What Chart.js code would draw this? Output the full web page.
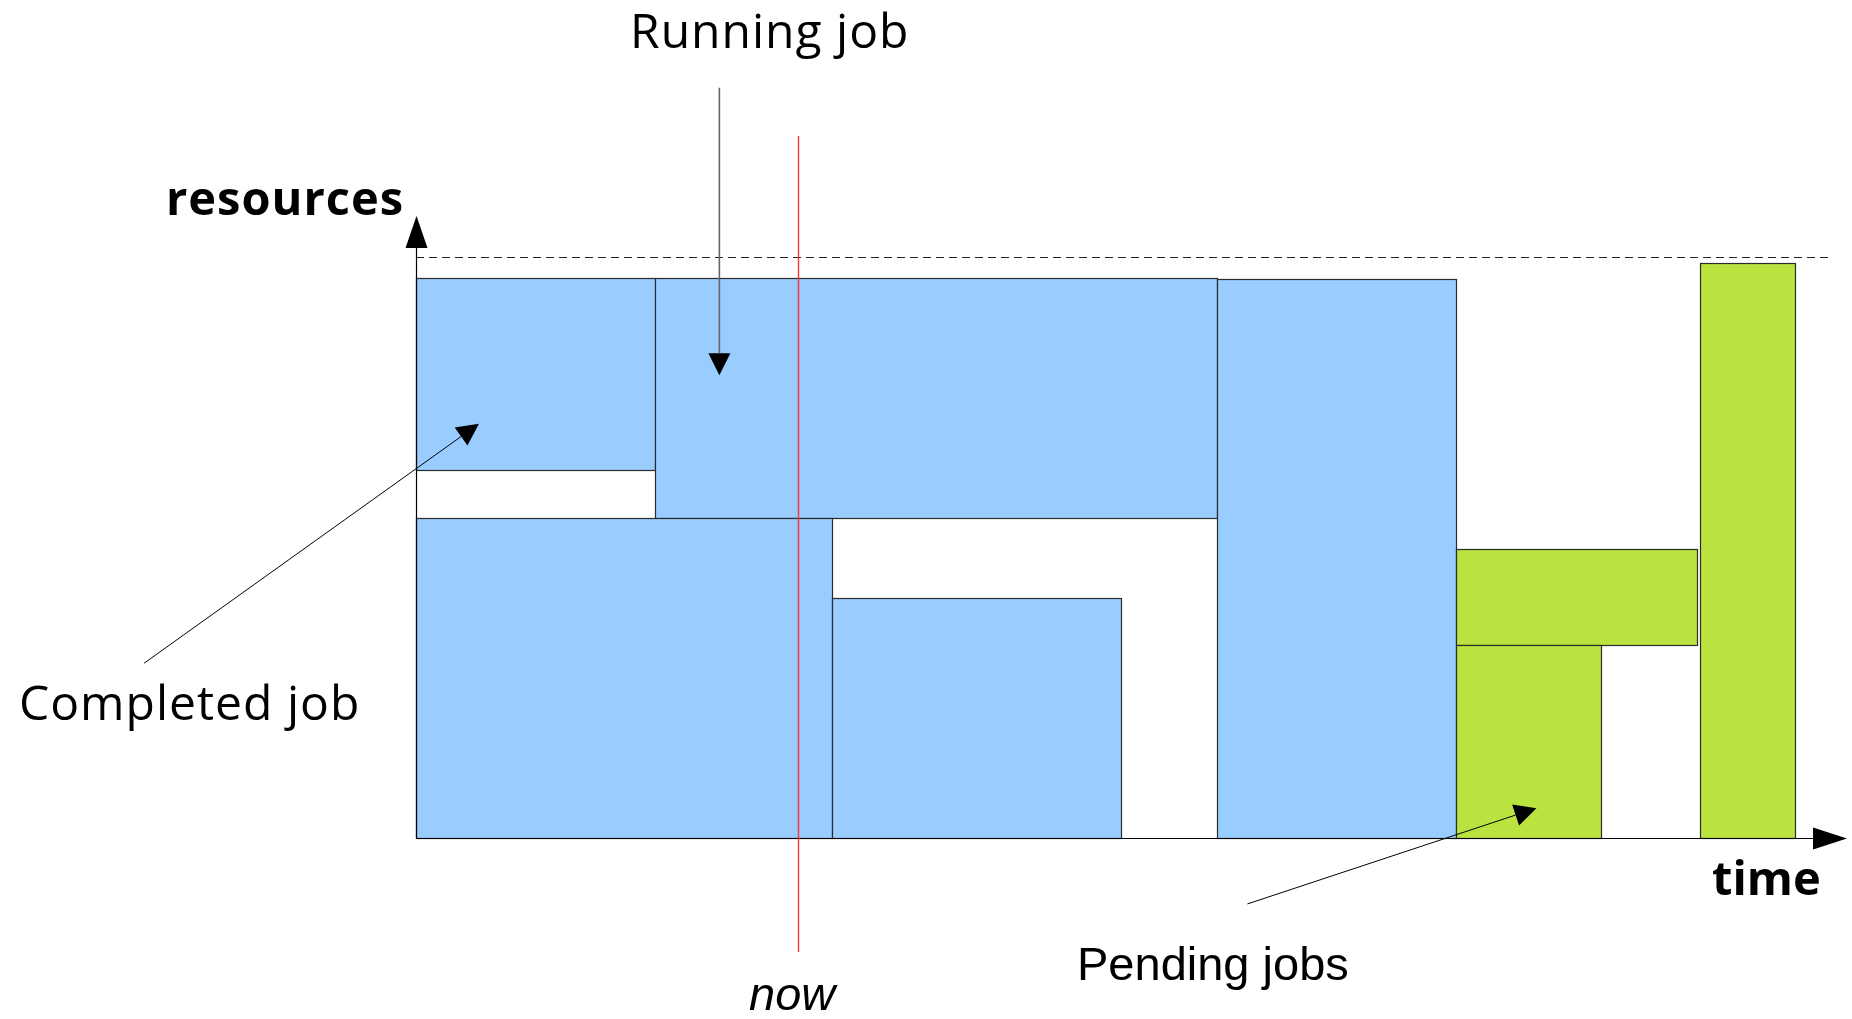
<!DOCTYPE html>
<html>
<head>
<meta charset="utf-8">
<script src="https://cdn.jsdelivr.net/npm/chart.js@4"></script>
<style>
  html, body { margin: 0; padding: 0; background: #fff; overflow: hidden; }
  #wrap { width: 1852px; height: 1019px; position: relative; }
</style>
</head>
<body>
<div id="wrap"><canvas id="chart"></canvas></div>
<script>
// jobs on the time / resources plane (time 0..100, resources 0..100)
const jobStart = [0, 16.7, 0, 29.1, 56.0, 72.7, 72.7, 89.7];
const jobEnd   = [16.7, 56.0, 29.1, 49.3, 72.7, 89.5, 82.8, 96.4];
const jobLow   = [59.2, 51.4, 0, 0, 0, 31.0, 0, 0];
const jobHigh  = [90.0, 90.0, 51.4, 38.6, 89.9, 46.5, 31.0, 92.4];
const jobState = ["completed", "running", "running", "scheduled", "scheduled", "pending", "pending", "pending"];
const capacity = 93.4;
const nowTime = 26.7;

const C = { completed: "#99ccff", running: "#99ccff", scheduled: "#99ccff", pending: "#bbe33f", edge: "#2b2b2b", now: "#ff3030" };

// annotation arrows in data coords: [x1, y1, x2, y2]
const notes = {
  running: [21.2, 120.6, 21.2, 74.4],
  completed: [-19.0, 28.1, 4.4, 66.6],
  pending: [58.1, -10.6, 78.3, 4.8]
};

function head(ctx, x1, y1, x2, y2, len, hw) {
  const a = Math.atan2(y2 - y1, x2 - x1), bx = x2 - len * Math.cos(a), by = y2 - len * Math.sin(a);
  ctx.beginPath();
  ctx.moveTo(x2, y2);
  ctx.lineTo(bx + hw * Math.sin(a), by - hw * Math.cos(a));
  ctx.lineTo(bx - hw * Math.sin(a), by + hw * Math.cos(a));
  ctx.closePath(); ctx.fill();
  return [bx, by];
}

function arrow(ctx, x1, y1, x2, y2, color, w) {
  ctx.fillStyle = "#000";
  const [bx, by] = head(ctx, x1, y1, x2, y2, 22, 11);
  ctx.strokeStyle = color; ctx.lineWidth = w;
  ctx.beginPath(); ctx.moveTo(x1, y1); ctx.lineTo(bx, by); ctx.stroke();
}

const schedPlugin = {
  id: "sched",
  afterDatasetsDraw(chart) {
    const ctx = chart.ctx, X = chart.scales.x, Y = chart.scales.y;
    const px = v => Math.round(X.getPixelForValue(v)), py = v => Math.round(Y.getPixelForValue(v));
    const x0 = px(0), y0 = py(0);
    ctx.save();

    // capacity dashed line
    ctx.strokeStyle = "#222"; ctx.lineWidth = 1; ctx.setLineDash([8, 5]);
    ctx.beginPath(); ctx.moveTo(x0, py(capacity) + 0.5); ctx.lineTo(1830, py(capacity) + 0.5); ctx.stroke();
    ctx.setLineDash([]);

    // job boxes
    jobStart.forEach((s, i) => {
      const l = px(s), r = px(jobEnd[i]), t = py(jobHigh[i]), b = py(jobLow[i]);
      ctx.fillStyle = C[jobState[i]];
      ctx.fillRect(l, t, r - l, b - t);
      ctx.strokeStyle = C.edge; ctx.lineWidth = 1.2;
      ctx.strokeRect(l + 0.5, t + 0.5, r - l, b - t);
    });

    // axes
    ctx.strokeStyle = "#000"; ctx.fillStyle = "#000"; ctx.lineWidth = 1.2;
    ctx.beginPath(); ctx.moveTo(x0 + 0.5, y0); ctx.lineTo(x0 + 0.5, py(100) + 30); ctx.stroke();
    ctx.beginPath(); ctx.moveTo(x0, y0 + 0.5); ctx.lineTo(px(100) - 30, y0 + 0.5); ctx.stroke();
    head(ctx, x0 + 0.5, y0, x0 + 0.5, py(100), 32, 11);
    head(ctx, x0, y0 + 0.5, px(100), y0 + 0.5, 34, 11);

    // now line
    ctx.strokeStyle = C.now; ctx.lineWidth = 1.4;
    ctx.beginPath(); ctx.moveTo(px(nowTime) + 0.5, 136); ctx.lineTo(px(nowTime) + 0.5, 952); ctx.stroke();

    // annotation arrows
    const P = n => notes[n].map((v, k) => k % 2 ? Y.getPixelForValue(v) : X.getPixelForValue(v));
    arrow(ctx, ...P("running"), "#666", 1.6);
    arrow(ctx, ...P("completed"), "#000", 1);
    arrow(ctx, ...P("pending"), "#000", 1);

    // labels
    ctx.fillStyle = "#000"; ctx.textBaseline = "alphabetic"; ctx.textAlign = "left";
    ctx.letterSpacing = "1px";
    ctx.font = "48px 'Open Sans'";
    ctx.fillText("Running job", 630, 48);
    ctx.fillText("Completed job", 19, 720);
    ctx.font = "bold 47px 'Open Sans'";
    ctx.fillText("resources", 166, 215);
    ctx.letterSpacing = "0px";
    ctx.fillText("time", 1712, 895);
    ctx.font = "47px 'Liberation Sans'";
    ctx.fillText("Pending jobs", 1077, 980);
    ctx.font = "italic 47px 'Liberation Sans'";
    ctx.fillText("now", 749, 1010);
    ctx.restore();
  }
};

new Chart(document.getElementById("chart"), {
  type: "scatter",
  data: { datasets: [{ data: [] }] },
  options: {
    responsive: true, maintainAspectRatio: false, animation: false,
    layout: { padding: { left: 416, right: 5, top: 216, bottom: 181 } },
    plugins: { legend: { display: false }, tooltip: { enabled: false } },
    scales: {
      x: { type: "linear", min: 0, max: 100, display: false },
      y: { type: "linear", min: 0, max: 100, display: false }
    }
  },
  plugins: [schedPlugin]
});
</script>
</body>
</html>
